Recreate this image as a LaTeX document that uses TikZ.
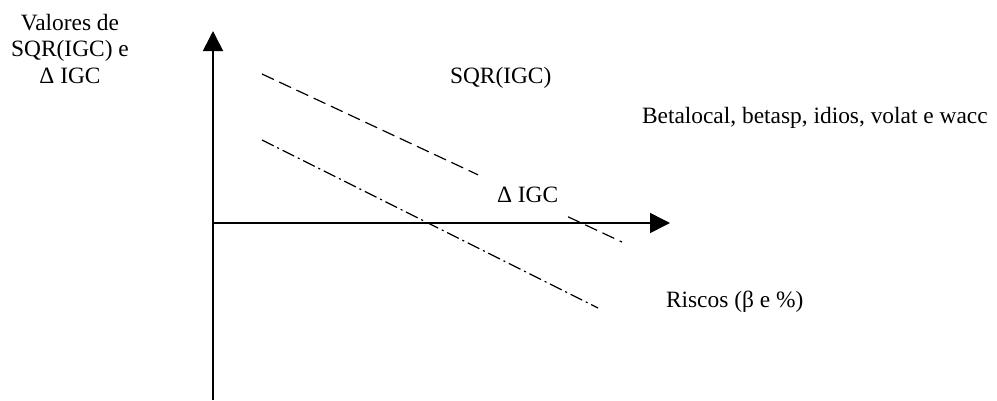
\documentclass[tikz,border=0pt]{standalone}
\usepackage{fontspec}
\setmainfont{Liberation Serif}
\usepackage{tikz}
\usetikzlibrary{arrows.meta,calc,positioning}
\tikzstyle{axis}  =[line width=1.6pt, -{Triangle[length=20pt,width=20pt]}]
\tikzstyle{dline} =[line width=1.2pt, dash pattern=on 13pt off 6pt]
\tikzstyle{ddline}=[line width=1.2pt, dash pattern=on 13pt off 4pt on 2pt off 4pt]
\tikzstyle{txt}   =[inner sep=0pt, outer sep=0pt, anchor=base west,
                    font=\fontsize{23.4}{26.5}\selectfont]

\begin{document}
\begin{tikzpicture}[x=1pt,y=-1pt]
    \useasboundingbox (0,0) rectangle (997,400);

        % eixos
        \coordinate (o)    at (213,223);
        \coordinate (ybot) at (213,400);
        \coordinate (ytop) at (213,31);
        \coordinate (xend) at (670,223);
        \draw [axis] (ybot) to (ytop);
        \draw [axis] (o) to (xend);

        % retas
        \coordinate (s0) at (262,74);
        \coordinate (s1) at (478,174.8);
        \coordinate (s2) at (568,216.8);
        \coordinate (s3) at (622,242);
        \draw [dline] (s0) to (s1);
        \draw [dline] (s2) to (s3);

        \coordinate (d0) at (262,140);
        \coordinate (d1) at (598,308);
        \draw [ddline] (d0) to (d1);

        % textos
        \node (yl) [txt,anchor=base,align=center] at (70,83)
            {Valores de\\SQR(IGC) e\\Δ IGC};
        \node (sqr) [txt] at (450,83) {SQR(IGC)};
        \node (beta) [txt] at (642,123) {Betalocal, betasp, idios, volat e wacc};
        \node (dig) [txt] at (497,202) {Δ IGC};
        \node (ris) [txt] at (666,307) {Riscos (β e \%)};

\end{tikzpicture}
\end{document}
